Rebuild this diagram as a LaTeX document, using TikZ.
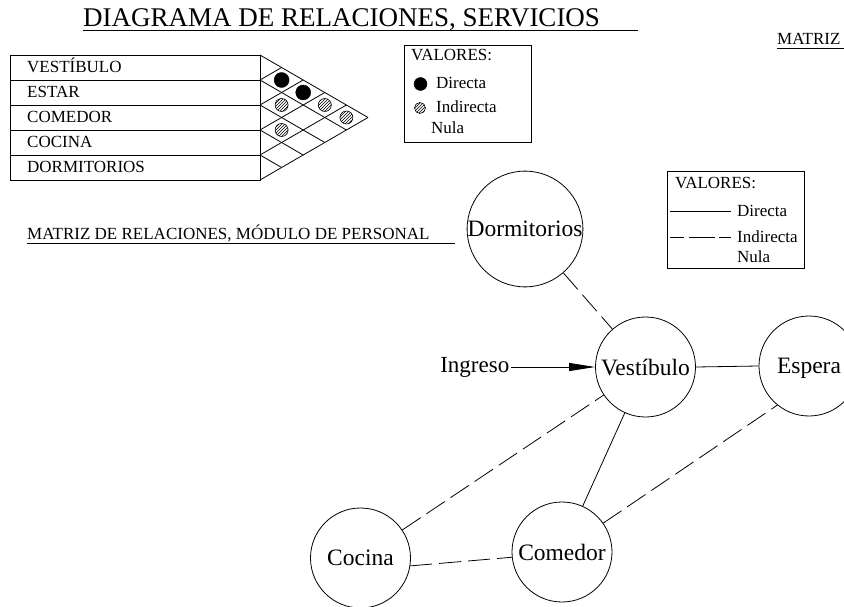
\documentclass[tikz,border=0pt]{standalone}
\usepackage{fontspec}
\setmainfont{Liberation Serif}
\usetikzlibrary{arrows.meta,patterns}
\tikzset{
  thin line/.style={line width=0.8pt},
  lbl/.style={anchor=base west, inner sep=0pt, font=\fontsize{17}{19}\selectfont},
  room/.style={draw, circle, minimum size=100pt, inner sep=0pt, line width=0.8pt, text depth=0pt, font=\fontsize{23.5}{26}\selectfont},
  indirect/.style={line width=0.8pt, dash pattern=on 22pt off 7pt},
  direct/.style={line width=0.8pt},
  blackdot/.style={fill=black, draw=black},
  hatchdot/.style={draw=black, line width=0.6pt, pattern=north east lines}
}
\begin{document}
\begin{tikzpicture}[x=1pt,y=-1pt]
\useasboundingbox (0,0) rectangle (844,607);
\clip (0,0) rectangle (844,607);
\fill[white] (0,0) rectangle (844,607);

% Heading
\node[anchor=base west, inner sep=0pt, font=\fontsize{27}{30}\selectfont] (head) at (83,27) {DIAGRAMA DE RELACIONES, SERVICIOS};
\coordinate (headend) at (638,30);
\draw[thin line] ([yshift=-3pt]head.base west) -- (headend);

% Top right title
\node[lbl] (mtr) at (777,45) {MATRIZ};
\coordinate (mtrend) at (844,48);
\draw[thin line] ([yshift=-3pt]mtr.base west) -- (mtrend);

% Table
\draw[thin line] (10,55) rectangle (260,180);
\foreach \k in {1,...,4} { \draw[thin line] (10,55+25*\k) -- (260,55+25*\k); }
\node[lbl] (r0) at (27,73) {VESTÍBULO};
\node[lbl] (r1) at (27,98) {ESTAR};
\node[lbl] (r2) at (27,123) {COMEDOR};
\node[lbl] (r3) at (27,148) {COCINA};
\node[lbl] (r4) at (27,173) {DORMITORIOS};

% Triangular matrix
\foreach \k in {0,...,4} {
  \draw[thin line] (260,55+25*\k) -- ({260+21.6*(5-\k)},{117.5+12.5*\k});
}
\foreach \k in {1,...,5} {
  \draw[thin line] (260,55+25*\k) -- ({260+21.6*\k},{55+12.5*\k});
}
% circles: pair (i,j) centre (260+21.6(j-i), 67.5+12.5(i+j))
\fill[blackdot] (281.6,80) circle (7.5pt);
\fill[blackdot] (303.2,92.5) circle (7.5pt);
\draw[hatchdot] (281.6,105) circle (6.5pt);
\draw[hatchdot] (324.8,105) circle (6.5pt);
\draw[hatchdot] (346.4,117.5) circle (6.5pt);
\draw[hatchdot] (281.6,130) circle (6.5pt);

% Legend 1
\draw[thin line] (404,45) rectangle (531,142);
\node[lbl] (l1v) at (411,61) {VALORES:};
\fill[blackdot] (420.5,84) circle (6.5pt);
\node[lbl] (l1d) at (436,89) {Directa};
\draw[hatchdot] (420,108) circle (5.5pt);
\node[lbl] (l1i) at (436,113) {Indirecta};
\node[lbl] (l1n) at (431,134) {Nula};

% Second title
\node[lbl] (t2) at (27,240) {MATRIZ DE RELACIONES, MÓDULO DE PERSONAL};
\coordinate (t2end) at (455,243);
\draw[thin line] ([yshift=-3pt]t2.base west) -- (t2end);

% Legend 2
\draw[thin line] (667,171) rectangle (804,268);
\node[lbl] (l2v) at (675,189) {VALORES:};
\coordinate (s1a) at (670,211); \coordinate (s1b) at (731,211);
\draw[direct] (s1a) -- (s1b);
\node[lbl] (l2d) at (737,216) {Directa};
\coordinate (s2a) at (670,237); \coordinate (s2b) at (731,237);
\draw[line width=0.8pt, dash pattern=on 26pt off 4.5pt, dash phase=12pt] (s2a) -- (s2b);
\node[lbl] (l2i) at (737,242) {Indirecta};
\node[lbl] (l2n) at (737,262) {Nula};

% Graph
\node[room] (dorm) at (525,229) {Dormitorios};
\node[room] (vest) at (645.5,367) {Vestíbulo};
\node[room] (esp) at (809,366) {Espera};
\node[room] (coc) at (360.5,558) {Cocina};
\node[room] (com) at (562,552) {Comedor};
\node[anchor=east, inner sep=1.5pt, font=\fontsize{23}{26}\selectfont] (ing) at (511,367) {Ingreso};

\draw[direct, -{Triangle[length=26pt, width=8pt]}] (ing.east) -- (vest.west);
\draw[indirect] (dorm) -- (vest);
\draw[direct] (vest.east) -- (esp.west);
\draw[indirect] (coc) -- (vest);
\draw[direct] (vest) -- (com);
\draw[indirect] (com.35) -- (esp.231);
\draw[indirect] (coc.-9) -- (com.186);
\end{tikzpicture}
\end{document}
